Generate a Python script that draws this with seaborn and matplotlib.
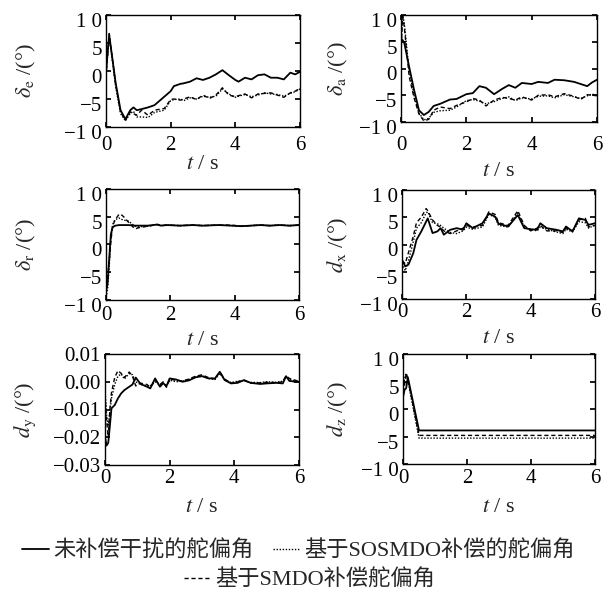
import matplotlib
matplotlib.use("Agg")
import matplotlib.pyplot as plt
import matplotlib.transforms as mtransforms
import seaborn as sns
from matplotlib.lines import Line2D

# ---- data ----
t_e = [0, 0.1, 0.3, 0.45, 0.6, 0.75, 0.85, 0.95, 1.1, 1.3, 1.5, 1.8, 2.0, 2.1, 2.3, 2.4,
       2.6, 2.8, 3.0, 3.2, 3.4, 3.6, 3.8, 4.0, 4.1, 4.3, 4.5, 4.7, 4.9, 5.1, 5.3, 5.5,
       5.7, 5.85, 6.0]
de_none = [0, 6.4, -2.2, -7.0, -8.6, -7.0, -6.5, -7.0, -6.8, -6.5, -6.1, -4.6, -3.6, -2.7,
           -2.3, -2.2, -1.9, -1.3, -1.6, -1.2, -0.6, 0.15, -0.75, -1.6, -1.9, -1.2, -1.5,
           -0.75, -0.6, -1.2, -1.2, -1.5, -0.3, -0.6, -0.15]
de_sosmdo = [-0.5, 6.2, -2.8, -7.6, -8.9, -7.6, -7.2, -8.2, -8.2, -8.3, -7.4, -7.0, -5.3,
             -5.1, -5.0, -5.3, -4.8, -5.0, -4.5, -4.7, -4.5, -3.2, -4.1, -4.7, -4.5, -4.2,
             -4.6, -4.3, -3.9, -4.1, -4.2, -4.5, -4.0, -3.7, -3.2]
de_smdo = [-1.0, 6.7, -2.5, -7.3, -8.8, -7.3, -7.6, -7.9, -7.0, -7.9, -7.0, -6.7, -5.1,
           -5.0, -5.2, -5.0, -4.6, -5.1, -4.3, -4.9, -4.3, -3.0, -4.3, -4.6, -4.4, -4.1,
           -4.8, -4.1, -4.0, -3.9, -4.3, -4.7, -3.9, -3.6, -3.1]

t_a = [0, 0.05, 0.1, 0.25, 0.4, 0.55, 0.7, 0.85, 1.0, 1.2, 1.5, 1.7, 2.0, 2.2, 2.4, 2.6,
       2.85, 3.1, 3.3, 3.5, 3.7, 4.0, 4.2, 4.5, 4.7, 5.0, 5.3, 5.5, 5.7, 5.85, 6.0]
da_none = [5.5, 5.3, 4.8, 0.3, -4.0, -7.8, -8.7, -8.1, -7.0, -6.6, -5.8, -5.7, -4.8, -4.6,
           -3.3, -3.6, -4.8, -3.8, -3.1, -3.6, -2.7, -2.9, -2.5, -2.7, -2.1, -2.2, -2.5,
           -2.9, -3.3, -2.6, -2.1]
da_sosmdo = [4.0, 10.0, 8.5, -0.5, -5.0, -8.3, -9.6, -9.3, -8.2, -7.9, -7.8, -7.2, -6.0,
             -5.8, -6.1, -6.6, -6.2, -5.6, -5.3, -6.0, -5.5, -5.7, -5.2, -5.1, -5.5, -4.9,
             -5.3, -5.6, -5.1, -4.8, -5.0]
da_smdo = [3.0, 9.7, 7.8, -1.5, -5.5, -8.5, -9.8, -9.5, -7.8, -7.2, -7.5, -6.9, -6.25,
           -5.6, -5.9, -7.0, -5.9, -5.4, -5.6, -5.9, -5.3, -5.9, -5.0, -4.9, -5.3, -4.7,
           -5.2, -5.8, -4.9, -5.0, -5.1]

t_r = [0, 0.05, 0.1, 0.15, 0.2, 0.25, 0.3, 0.4, 0.45, 0.55, 0.7, 0.9, 1.0, 1.3, 1.6, 1.7,
       1.9, 2.3, 2.7, 3.0, 3.5, 3.9, 4.2, 4.5, 4.8, 5.1, 5.4, 5.7, 6.0]
dr_none = [-8.5, -7.0, -2.5, 1.8, 3.0, 3.3, 3.4, 3.5, 3.5, 3.5, 3.5, 3.4, 3.4, 3.4, 3.6,
           3.4, 3.5, 3.4, 3.5, 3.4, 3.5, 3.4, 3.3, 3.4, 3.5, 3.4, 3.5, 3.4, 3.5]
dr_sosmdo = [-9.5, -8.0, -4.0, 1.0, 3.5, 4.2, 4.5, 4.8, 4.6, 4.4, 4.2, 3.3, 3.2, 3.3, 3.6,
             3.4, 3.5, 3.4, 3.5, 3.4, 3.5, 3.4, 3.3, 3.4, 3.5, 3.4, 3.5, 3.4, 3.5]
dr_smdo = [-7.5, -6.0, -3.0, 0.5, 3.0, 4.0, 4.6, 5.4, 5.5, 5.0, 4.0, 2.8, 3.0, 3.3, 3.6,
           3.4, 3.5, 3.4, 3.5, 3.4, 3.5, 3.5, 3.3, 3.4, 3.5, 3.4, 3.5, 3.4, 3.5]

t_x = [0, 0.1, 0.2, 0.35, 0.45, 0.6, 0.75, 0.8, 0.95, 1.1, 1.2, 1.3, 1.5, 1.7, 1.9, 2.0,
       2.2, 2.5, 2.7, 2.9, 3.0, 3.3, 3.6, 3.8, 4.0, 4.2, 4.3, 4.5, 4.8, 5.0, 5.1, 5.3,
       5.5, 5.7, 5.8, 6.0]
dx_none = [-2.8, -4.0, -3.7, -1.6, 0.85, 2.4, 4.2, 4.8, 2.1, 2.4, 3.0, 1.8, 2.7, 3.0, 2.7,
           3.9, 3.0, 3.9, 5.7, 5.1, 3.8, 3.3, 5.4, 3.0, 2.8, 2.7, 3.9, 3.0, 2.7, 2.4, 3.3,
           2.4, 4.8, 4.5, 3.6, 3.9]
dx_sosmdo = [-3.5, -4.8, -3.0, 0.5, 3.0, 4.0, 5.8, 6.0, 4.0, 3.8, 3.5, 3.0, 2.2, 2.0, 2.5,
             3.2, 2.8, 3.2, 5.5, 5.0, 3.5, 3.2, 5.8, 3.2, 2.8, 2.5, 3.2, 2.8, 2.3, 2.0,
             2.8, 2.3, 4.2, 4.0, 3.0, 3.6]
dx_smdo = [-3.0, -3.5, -1.5, 1.5, 4.0, 5.0, 6.6, 6.2, 4.5, 3.5, 3.2, 2.5, 2.0, 2.5, 3.0,
           3.5, 3.2, 3.5, 6.0, 5.5, 4.0, 3.5, 6.2, 3.5, 2.5, 3.0, 3.5, 2.5, 2.5, 2.2, 3.0,
           2.5, 4.5, 4.8, 3.2, 3.5]

t_y = [0, 0.05, 0.1, 0.15, 0.2, 0.3, 0.4, 0.5, 0.6, 0.75, 0.85, 0.95, 1.1, 1.3, 1.4, 1.55,
       1.7, 1.8, 1.9, 2.0, 2.2, 2.4, 2.6, 2.8, 3.0, 3.2, 3.4, 3.55, 3.7, 3.9, 4.1, 4.3,
       4.5, 4.8, 5.0, 5.3, 5.5, 5.6, 5.7, 5.9, 6.0]
dy_none = [-0.020, -0.023, -0.022, -0.016, -0.0096, -0.0084, -0.006, -0.0042, -0.003,
           -0.0018, -0.001, 0.0015, -0.0008, -0.0018, -0.0024, 0.0012, -0.0018, -0.0005,
           -0.0016, 0.0012, 0.0008, 0.0, 0.0005, 0.0016, 0.002, 0.0012, 0.0012, 0.0036,
           0.0006, -0.0006, -0.0004, 0.0006, -0.0004, -0.0008, -0.0006, -0.0004, -0.0006,
           0.002, 0.0003, 0.0, 0.0]
dy_sosmdo = [-0.003, -0.012, -0.016, -0.011, -0.006, -0.001, 0.002, 0.0028, 0.001, 0.003,
             0.0025, 0.0, -0.001, -0.0015, -0.0015, 0.0, -0.0012, -0.0005, -0.0015,
             0.0005, 0.0, 0.0002, 0.0008, 0.0018, 0.0022, 0.0012, 0.0008, 0.003, 0.0008,
             -0.0003, 0.0002, 0.0004, -0.0002, -0.0003, 0.0, -0.0002, 0.0002, 0.0018,
             0.0008, 0.0003, 0.0001]
dy_smdo = [-0.005, -0.014, -0.020, -0.010, -0.004, 0.0015, 0.004, 0.003, 0.0015, 0.0035,
           0.002, -0.0015, -0.0005, -0.001, -0.002, 0.0005, -0.001, 0.0, -0.002, 0.001,
           0.0005, 0.0003, 0.001, 0.002, 0.0025, 0.0015, 0.001, 0.0035, 0.001, -0.0005,
           0.0, 0.0005, -0.0005, -0.0004, -0.0002, -0.0003, 0.0, 0.0022, 0.0012, 0.0005,
           0.0]

t_z = [0, 0.05, 0.1, 0.15, 0.5, 6.0]
dz_none = [2.2, 3.5, 3.8, 5.8, -3.9, -3.9]
dz_sosmdo = [4.0, 5.5, 6.5, 5.2, -5.3, -5.3]
dz_smdo = [3.0, 4.5, 6.5, 5.5, -4.8, -4.8]

y_ticks = [-10, -5, 0, 5, 10]
y_ticklabels = ["\u22121 0", "\u22125", "0", "5", "1 0"]
dy_ticks = [-0.03, -0.02, -0.01, 0.0, 0.01]
dy_ticklabels = ["\u22120.03", "\u22120.02", "\u22120.01", "0.00", "0.01"]
x_ticks = [0, 2, 4, 6]

legend_labels = ["未补偿干扰的舵偏角", "基于SOSMDO补偿的舵偏角", "基于SMDO补偿舵偏角"]

# ---- style ----
sns.set_theme(style="ticks")
plt.rcParams.update({
    "font.size": 14,
    "mathtext.fontset": "stix",
    "axes.linewidth": 1.0,
    "axes.edgecolor": "black",
    "xtick.direction": "in",
    "ytick.direction": "in",
    "xtick.top": True,
    "ytick.right": True,
    "xtick.major.size": 3.5,
    "ytick.major.size": 3.5,
    "ytick.major.pad": 3,
    "xtick.labelsize": 15,
    "ytick.labelsize": 15,
    "axes.labelsize": 16,
})
plt.rcParams["font.family"] = ["Liberation Serif", "Noto Sans CJK SC"]

W, H = 614, 602
fig = plt.figure(figsize=(W / 100, H / 100), dpi=100)


def px_axes(left, right, top, bottom):
    return fig.add_axes([left / W, 1 - bottom / H, (right - left) / W, (bottom - top) / H])


# box (left, right, top, bottom) in px, x tick pad (pt), y-label right edge px, x-label top px
panels = [
    ((106, 300, 15, 127), 6.5, 38, 155, t_e, de_none, de_sosmdo, de_smdo,
     r"$\delta_{\mathrm{e}}$ /(°)", False),
    ((401, 597, 15, 122), 10.0, 350, 162, t_a, da_none, da_sosmdo, da_smdo,
     r"$\delta_{\mathrm{a}}$ /(°)", False),
    ((106, 299, 189, 300), 4.0, 38, 331, t_r, dr_none, dr_sosmdo, dr_smdo,
     r"$\delta_{\mathrm{r}}$ /(°)", False),
    ((402, 595, 190, 299), 3.0, 350, 329, t_x, dx_none, dx_sosmdo, dx_smdo,
     r"$d_{\mathrm{x}}$ /(°)", False),
    ((105, 299, 354, 465), 3.0, 38, 498, t_y, dy_none, dy_sosmdo, dy_smdo,
     r"$d_{\mathrm{y}}$ /(°)", True),
    ((403, 595, 354, 464), 3.5, 350, 498, t_z, dz_none, dz_sosmdo, dz_smdo,
     r"$d_{\mathrm{z}}$ /(°)", False),
]

styles = [("-", 1.3), ((0, (1, 1.2)), 1.0), ((0, (3, 2)), 1.0)]
shift_down = mtransforms.ScaledTranslation(0, -5 / 100, fig.dpi_scale_trans)

for box, xpad, ylab_x, xlab_y, t, s_none, s_sos, s_smdo, ylab, is_dy in panels:
    left, right, top, bottom = box
    ax = px_axes(*box)
    for vals, (ls, lw) in zip([s_none, s_sos, s_smdo], styles):
        sns.lineplot(x=t, y=vals, ax=ax, color="black", linestyle=ls, linewidth=lw,
                     estimator=None, sort=False)
    ax.set_xlim(0, 6)
    ax.set_xticks(x_ticks)
    ax.set_xticklabels([str(v) for v in x_ticks])
    ax.tick_params(axis="x", pad=xpad)
    if is_dy:
        ax.set_ylim(-0.03, 0.01)
        ax.set_yticks(dy_ticks)
        ax.set_yticklabels(dy_ticklabels)
    else:
        ax.set_ylim(-10, 10)
        ax.set_yticks(y_ticks)
        ax.set_yticklabels(y_ticklabels)
        for lab in ax.get_yticklabels():
            lab.set_transform(lab.get_transform() + shift_down)
    ax.set_xlabel(r"$t$ / s")
    ax.set_ylabel(ylab)
    ax.xaxis.set_label_coords(0.5, (bottom - xlab_y) / (bottom - top))
    ax.yaxis.set_label_coords((ylab_x - left) / (right - left), 0.5)
    ax.tick_params(colors="black", labelcolor="black")

handles = [Line2D([], [], color="black", linestyle=ls, linewidth=lw) for ls, lw in styles]
fig.legend(handles[:2], legend_labels[:2], loc="center left", ncol=2,
           bbox_to_anchor=(22 / W, 1 - 551 / H), frameon=False, fontsize=16,
           handlelength=1.2, handletextpad=0.2, columnspacing=0.9, borderpad=0,
           borderaxespad=0)
fig.legend(handles[2:], legend_labels[2:], loc="center left",
           bbox_to_anchor=(184 / W, 1 - 580 / H), frameon=False, fontsize=16,
           handlelength=1.2, handletextpad=0.2, borderpad=0, borderaxespad=0)

fig.savefig("out.png", dpi=100)
